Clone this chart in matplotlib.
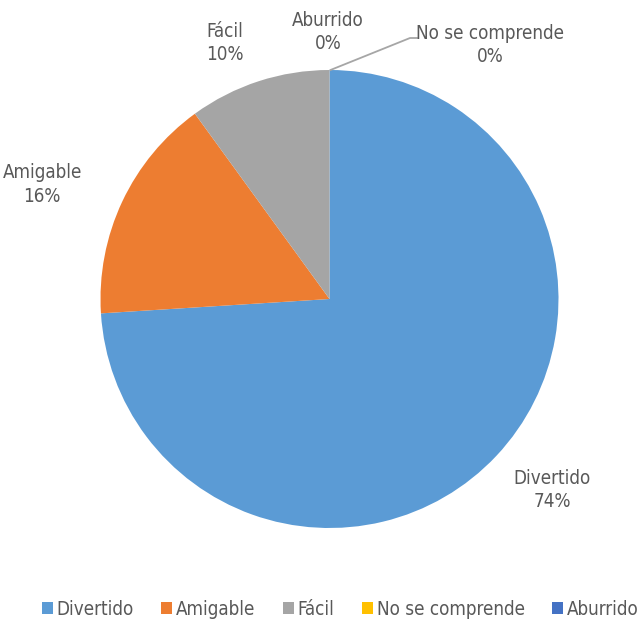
import numpy as np
import matplotlib.pyplot as plt
from matplotlib.patches import Patch

# Respuestas de la encuesta
categorias = ['Divertido', 'Amigable', 'Fácil', 'No se comprende', 'Aburrido']
porcentajes = [74, 16, 10, 0, 0]
colores = ['#5B9BD5', '#ED7D31', '#A5A5A5', '#FFC000', '#4472C4']

plt.rcParams['font.family'] = ['DejaVu Sans']
plt.rcParams['font.stretch'] = 'condensed'
gris = '#595959'

fig = plt.figure(figsize=(6.44, 6.22), dpi=100)
ax = fig.add_axes([0, 0, 1, 1])

cx, cy, r = 329.5, 323, 229
wedges, _ = ax.pie(porcentajes, colors=colores, startangle=90, counterclock=False,
                   center=(cx, cy), radius=r, frame=True,
                   wedgeprops=dict(linewidth=0))
ax.set_xlim(0, 644)
ax.set_ylim(0, 622)
ax.set_aspect('equal')
ax.axis('off')

# etiquetas de datos: desplazamiento desde el borde de cada porcion
desplaz = {'Divertido': (56, -34), 'Amigable': (-80, 17), 'Fácil': (-34, 38)}
for w, cat, p in zip(wedges, categorias, porcentajes):
    if cat in desplaz:
        ang = np.deg2rad((w.theta1 + w.theta2) / 2)
        dx, dy = desplaz[cat]
        x = cx + r * np.cos(ang) + dx
        y = cy + r * np.sin(ang) + dy
        ax.text(x, y, f'{cat}\n{p}%', ha='center', va='center', fontsize=13.5,
                color=gris, linespacing=1.3)

# categorias con 0%
ax.text(328, 590, f'Aburrido\n{porcentajes[4]}%', ha='center', va='center',
        fontsize=13.5, color=gris, linespacing=1.3)
ax.text(490, 577, f'No se comprende\n{porcentajes[3]}%', ha='center', va='center',
        fontsize=13.5, color=gris, linespacing=1.3)
ax.plot([cx + 1, 410, 417], [cy + r, 584, 584], color='#A6A6A6', lw=1.3)

handles = [Patch(facecolor=c, edgecolor='none') for c in colores]
fig.legend(handles, categorias, loc='center', bbox_to_anchor=(0.528, 0.02), ncol=5,
           frameon=False, fontsize=13.5, handlelength=0.6, handleheight=0.6,
           handletextpad=0.2, columnspacing=1.45, labelcolor=gris)

fig.savefig('out.png', dpi=100)
